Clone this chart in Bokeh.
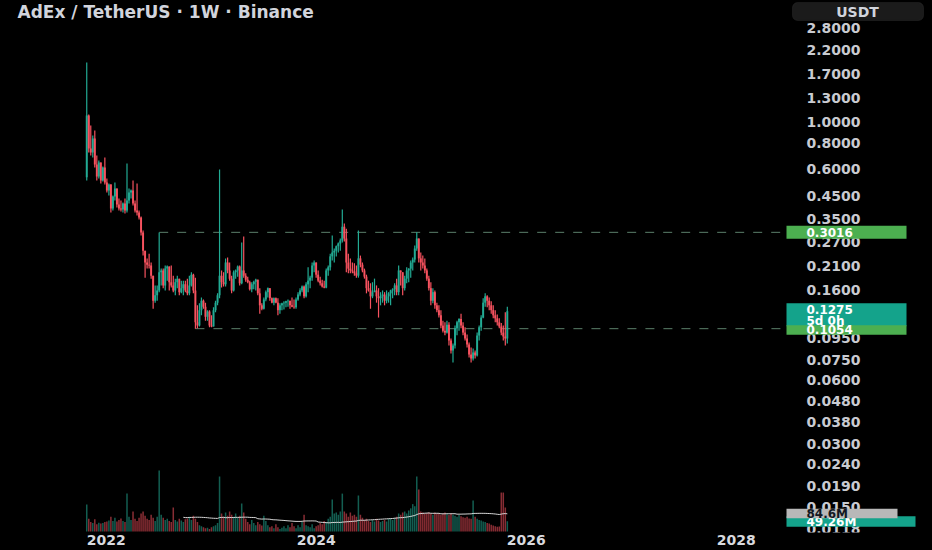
import pandas as pd
from bokeh.plotting import figure
from bokeh.models import (Range1d, FixedTicker, PrintfTickFormatter, DatetimeTickFormatter,
                          Label, BoxAnnotation, ColumnDataSource, LinearScale)
from bokeh.embed import file_html
from bokeh.resources import INLINE

# ---------------- data ----------------
title_text = "AdEx / TetherUS · 1W · Binance"
quote_currency = "USDT"
first_week = "2021-10-25"
first_open = 0.55

close = [
    1.079, 0.753, 0.721, 0.840, 0.632, 0.555, 0.646, 0.531, 0.612, 0.520,
    0.476, 0.508, 0.391, 0.446, 0.487, 0.409, 0.391, 0.387, 0.413, 0.383,
    0.427, 0.466, 0.476, 0.413, 0.383, 0.375, 0.355, 0.301, 0.247, 0.217,
    0.212, 0.210, 0.188, 0.143, 0.152, 0.160, 0.195, 0.199, 0.169, 0.203,
    0.208, 0.175, 0.169, 0.160, 0.175, 0.182, 0.157, 0.164, 0.171, 0.160,
    0.155, 0.169, 0.190, 0.160, 0.113, 0.109, 0.129, 0.143, 0.134, 0.120,
    0.127, 0.109, 0.108, 0.129, 0.140, 0.152, 0.188, 0.175, 0.171, 0.217,
    0.199, 0.182, 0.160, 0.195, 0.199, 0.208, 0.173, 0.199, 0.188, 0.180,
    0.175, 0.162, 0.171, 0.176, 0.180, 0.155, 0.136, 0.131, 0.145, 0.157,
    0.164, 0.147, 0.140, 0.147, 0.140, 0.129, 0.136, 0.139, 0.140, 0.142,
    0.143, 0.136, 0.134, 0.133, 0.145, 0.153, 0.160, 0.167, 0.150, 0.171,
    0.178, 0.184, 0.210, 0.217, 0.190, 0.178, 0.173, 0.167, 0.165, 0.199,
    0.206, 0.232, 0.242, 0.247, 0.259, 0.267, 0.276, 0.321, 0.282, 0.217,
    0.203, 0.199, 0.197, 0.193, 0.188, 0.227, 0.212, 0.199, 0.186, 0.164,
    0.160, 0.150, 0.157, 0.160, 0.150, 0.147, 0.150, 0.153, 0.143, 0.150,
    0.155, 0.160, 0.162, 0.169, 0.157, 0.199, 0.195, 0.164, 0.182, 0.199,
    0.203, 0.217, 0.224, 0.253, 0.282, 0.227, 0.217, 0.210, 0.199, 0.182,
    0.164, 0.143, 0.157, 0.136, 0.129, 0.122, 0.109, 0.103, 0.101, 0.110,
    0.0926, 0.0830, 0.0878, 0.106, 0.113, 0.117, 0.109, 0.101, 0.0947, 0.0887,
    0.0795, 0.0761, 0.0813, 0.0787, 0.0978, 0.107, 0.119, 0.140, 0.150, 0.143,
    0.136, 0.129, 0.122, 0.118, 0.113, 0.108, 0.101, 0.0968, 0.0947, 0.1275,
]

high = [
    1.924, 1.091, 0.968, 0.868, 0.916, 0.698, 0.661, 0.646, 0.619, 0.683,
    0.543, 0.514, 0.510, 0.451, 0.520, 0.487, 0.436, 0.427, 0.418, 0.436,
    0.639, 0.487, 0.481, 0.531, 0.427, 0.514, 0.383, 0.359, 0.308, 0.247,
    0.227, 0.239, 0.217, 0.188, 0.169, 0.169, 0.301, 0.203, 0.203, 0.210,
    0.210, 0.208, 0.210, 0.188, 0.182, 0.188, 0.182, 0.178, 0.178, 0.178,
    0.182, 0.188, 0.195, 0.192, 0.184, 0.136, 0.139, 0.148, 0.145, 0.140,
    0.129, 0.129, 0.122, 0.133, 0.143, 0.155, 0.599, 0.199, 0.195, 0.227,
    0.229, 0.217, 0.188, 0.199, 0.201, 0.210, 0.210, 0.270, 0.288, 0.193,
    0.186, 0.178, 0.175, 0.178, 0.182, 0.180, 0.164, 0.139, 0.148, 0.160,
    0.165, 0.164, 0.148, 0.148, 0.148, 0.147, 0.139, 0.140, 0.142, 0.143,
    0.145, 0.143, 0.148, 0.145, 0.148, 0.157, 0.164, 0.169, 0.169, 0.175,
    0.206, 0.188, 0.217, 0.222, 0.217, 0.199, 0.186, 0.180, 0.178, 0.203,
    0.210, 0.239, 0.291, 0.253, 0.261, 0.270, 0.282, 0.387, 0.332, 0.314,
    0.239, 0.227, 0.217, 0.215, 0.210, 0.308, 0.234, 0.217, 0.203, 0.190,
    0.178, 0.173, 0.175, 0.182, 0.169, 0.164, 0.157, 0.160, 0.157, 0.160,
    0.157, 0.161, 0.164, 0.173, 0.182, 0.210, 0.199, 0.195, 0.188, 0.206,
    0.204, 0.222, 0.229, 0.261, 0.3016, 0.282, 0.242, 0.234, 0.227, 0.203,
    0.188, 0.175, 0.164, 0.160, 0.140, 0.136, 0.129, 0.115, 0.113, 0.115,
    0.113, 0.0947, 0.0897, 0.109, 0.115, 0.118, 0.124, 0.113, 0.107, 0.0989,
    0.0907, 0.0858, 0.0849, 0.0830, 0.101, 0.109, 0.122, 0.147, 0.155, 0.152,
    0.148, 0.142, 0.136, 0.129, 0.123, 0.118, 0.112, 0.109, 0.126, 0.134,
]

low = [
    0.531, 0.721, 0.698, 0.683, 0.612, 0.531, 0.543, 0.514, 0.525, 0.508,
    0.466, 0.451, 0.375, 0.383, 0.427, 0.396, 0.383, 0.379, 0.375, 0.370,
    0.375, 0.413, 0.436, 0.404, 0.375, 0.362, 0.347, 0.291, 0.234, 0.184,
    0.203, 0.203, 0.182, 0.131, 0.140, 0.143, 0.157, 0.169, 0.164, 0.160,
    0.178, 0.160, 0.165, 0.157, 0.152, 0.164, 0.152, 0.155, 0.152, 0.157,
    0.152, 0.152, 0.167, 0.155, 0.1054, 0.1058, 0.108, 0.122, 0.131, 0.115,
    0.115, 0.107, 0.107, 0.108, 0.126, 0.136, 0.147, 0.165, 0.167, 0.167,
    0.193, 0.178, 0.155, 0.158, 0.182, 0.186, 0.169, 0.171, 0.184, 0.176,
    0.173, 0.160, 0.157, 0.162, 0.160, 0.152, 0.124, 0.129, 0.130, 0.142,
    0.148, 0.143, 0.139, 0.136, 0.139, 0.122, 0.124, 0.129, 0.130, 0.133,
    0.134, 0.131, 0.133, 0.131, 0.131, 0.143, 0.150, 0.157, 0.147, 0.148,
    0.157, 0.164, 0.178, 0.195, 0.184, 0.175, 0.169, 0.165, 0.164, 0.164,
    0.188, 0.199, 0.222, 0.217, 0.232, 0.242, 0.247, 0.270, 0.273, 0.195,
    0.193, 0.193, 0.193, 0.188, 0.184, 0.184, 0.206, 0.195, 0.182, 0.155,
    0.158, 0.131, 0.147, 0.157, 0.140, 0.119, 0.136, 0.140, 0.136, 0.139,
    0.140, 0.136, 0.147, 0.152, 0.152, 0.152, 0.169, 0.152, 0.160, 0.173,
    0.175, 0.184, 0.199, 0.217, 0.247, 0.217, 0.199, 0.203, 0.193, 0.178,
    0.160, 0.136, 0.139, 0.131, 0.126, 0.119, 0.106, 0.101, 0.098, 0.100,
    0.0878, 0.0804, 0.0729, 0.0849, 0.098, 0.103, 0.106, 0.098, 0.0926, 0.0858,
    0.0770, 0.0729, 0.0745, 0.0761, 0.0778, 0.0926, 0.103, 0.118, 0.134, 0.133,
    0.129, 0.124, 0.118, 0.113, 0.109, 0.106, 0.098, 0.0926, 0.0878, 0.0897,
]

# weekly volume, millions of ADX
volume_m = [
    128,
    60, 45, 40, 58, 35, 42, 38, 40, 45, 48,
    52, 70, 50, 65, 48, 55, 62, 50, 45,
    180,
    70, 55, 95, 60, 50, 65, 85, 95, 75, 60, 55, 80, 65, 50, 70,
    290,
    80, 65, 55, 60, 50, 45, 114, 55, 48, 60, 52, 45, 58,
    62, 70, 55, 75, 60, 45, 30, 25, 20, 15, 18, 12, 20, 25, 30, 40,
    261,
    85, 70, 90, 75, 95, 80, 70, 85, 65, 75,
    133,
    90, 60, 45, 35, 55, 40, 30, 45, 35, 28, 75, 50,
    30, 20, 25, 15, 35, 20, 12, 18, 25, 15, 30, 20, 40, 25, 15, 30, 20, 45, 80, 30,
    25, 20, 35, 15, 25, 30, 40, 35, 50, 45, 60, 70,
    152,
    85, 90, 80, 95,
    180,
    95, 85, 70, 90, 75, 80, 70,
    171,
    80, 65, 55, 60, 50, 45, 55, 48, 60, 52, 45, 50, 55, 48, 60, 62, 55, 65, 70, 85,
    80, 90, 95, 85,
    100, 110, 130, 120,
    261,
    200,
    95, 90, 85, 88, 92, 85, 80, 90, 85, 88, 80, 85, 90, 82, 78, 85, 80, 75, 70, 78,
    72, 68, 65, 70,
    62, 60,
    147,
    70, 60, 55, 52, 48, 45, 40, 38, 32, 28, 25, 22, 24,
    185, 185, 114, 49.26,
]
volume_ma_window = 49
volume_ma_last = 84.6
volume_last = 49.26

level_prices = [0.3016, 0.1054]
level_start_candle = [36, 54]
last_price = 0.1275
countdown = "5d 0h"

price_ticks = [2.8, 2.2, 1.7, 1.3, 1.0, 0.8, 0.6, 0.45, 0.35, 0.27, 0.21, 0.16,
               0.095, 0.075, 0.06, 0.048, 0.038, 0.03, 0.024, 0.019, 0.015, 0.0118]
year_ticks = ["2022-01-01", "2024-01-01", "2026-01-01", "2028-01-01"]

assert len(close) == len(high) == len(low) == len(volume_m) == 210

# ---------------- styling ----------------
UP = "#22ab94"
DOWN = "#f7525f"
FONT = "DejaVu Sans"
AXIS_TEXT = "#c9cbd1"

dates = pd.date_range(first_week, periods=len(close), freq="7D")
open_ = [first_open] + close[:-1]
colors = [UP if c >= o else DOWN for o, c in zip(open_, close)]
ma = pd.Series(volume_m, dtype=float).rolling(volume_ma_window).mean()

src = ColumnDataSource(dict(
    t=dates, o=open_, h=high, l=low, c=close,
    top=[max(o, c) for o, c in zip(open_, close)],
    bottom=[min(o, c) for o, c in zip(open_, close)],
    color=colors, vol=volume_m, ma=ma,
))

x_start = pd.Timestamp("2020-12-29")    # left edge of the pane
pane_right = pd.Timestamp("2028-06-24")  # where the price scale begins
x_end = pd.Timestamp("2029-11-14")      # right edge of the canvas
p = figure(width=932, height=550, x_axis_type="datetime", y_axis_type="log",
           y_axis_location="right",
           x_range=Range1d(x_start, x_end), y_range=Range1d(0.0114, 3.786),
           output_backend="svg", toolbar_location=None,
           min_border_left=0, min_border_top=0, min_border_right=0, min_border_bottom=18,
           background_fill_color="#000000", border_fill_color="#000000",
           outline_line_color=None)
p.extra_y_ranges = {"vol": Range1d(-4.75, 2522.25)}
p.extra_y_scales = {"vol": LinearScale()}
p.grid.visible = False

week_ms = 7 * 24 * 3600 * 1000
# volume
p.vbar(x="t", width=week_ms * 0.75, top="vol", bottom=0, fill_color="color",
       fill_alpha=0.55, line_color=None, y_range_name="vol", source=src)
p.line(x="t", y="ma", line_color="#d6d6d6", line_width=1, y_range_name="vol", source=src)

# levels
for lv, i0 in zip(level_prices, level_start_candle):
    p.segment(x0=[dates[i0]], y0=[lv], x1=[pane_right], y1=[lv],
              line_color="#5b7f6a", line_width=1, line_dash="9 9")

# candles
p.segment(x0="t", y0="l", x1="t", y1="h", line_color="color", line_width=1.2, source=src)
p.vbar(x="t", width=week_ms * 0.95, top="top", bottom="bottom", fill_color="color",
       line_color=None, source=src)

# axes
ya = p.yaxis[0]
ya.fixed_location = pane_right.value / 1e6
ya.ticker = FixedTicker(ticks=price_ticks)
ya.formatter = PrintfTickFormatter(format="%.4f")
ya.axis_line_color = None
ya.major_tick_line_color = None
ya.minor_tick_line_color = None
ya.major_tick_out = 0
ya.major_tick_in = 0
ya.major_label_standoff = 20
ya.major_label_text_font = FONT
ya.major_label_text_font_size = "14px"
ya.major_label_text_font_style = "bold"
ya.major_label_text_color = AXIS_TEXT

xa = p.xaxis[0]
xa.ticker = FixedTicker(ticks=[pd.Timestamp(d).value // 10**6 for d in year_ticks])
xa.formatter = DatetimeTickFormatter(years="%Y", months="%Y", days="%Y")
xa.axis_line_color = None
xa.major_tick_line_color = None
xa.minor_tick_line_color = None
xa.major_tick_out = 0
xa.major_tick_in = 0
xa.major_label_standoff = 2
xa.major_label_text_font = FONT
xa.major_label_text_font_size = "14px"
xa.major_label_text_font_style = "bold"
xa.major_label_text_color = "#d8d9de"

# ---------------- annotations ----------------
K = 10 ** (1 / 211.0)   # price factor of one screen pixel on this log scale
VPX = 4.75              # volume (M) per screen pixel


def box(top, bottom, color, left=786, right=906, rng=None, line=None, radius=0):
    kw = dict(left=left, right=right, left_units="screen", right_units="screen",
              top=top, bottom=bottom, fill_color=color, fill_alpha=1.0,
              line_color=line, border_radius=radius)
    if rng:
        kw["y_range_name"] = rng
    p.add_layout(BoxAnnotation(**kw))


def text(x, y, s, color, size="12px", align="left", rng=None, style="bold"):
    kw = dict(x=x, y=y, x_units="screen", text=s, text_color=color, text_font=FONT,
              text_font_size=size, text_font_style=style, text_align=align,
              text_baseline="middle")
    if rng:
        kw["y_range_name"] = rng
    p.add_layout(Label(**kw))


text(17, 3.357, title_text, "#d1d4dc", size="17px")
box(3.70, 3.044, "#1b1b1b", left=792, right=923, line="#3a3a3a", radius=5)
text(857, 3.357, quote_currency, "#d1d4dc", size="14px", align="center")

# price tags
box(level_prices[0] * K**6.5, level_prices[0] / K**6.5, "#4caf50")
text(806, level_prices[0], f"{level_prices[0]:.4f}", "#ffffff")
box(last_price * K**8, last_price / K**15, "#14a38b")
text(806, last_price * K**2, f"{last_price:.4f}", "#ffffff")
text(806, last_price / K**10, countdown, "#ffffff")
box(level_prices[1] * K**3.5, level_prices[1] / K**6, "#4caf50")
text(806, level_prices[1] / K**1.2, f"{level_prices[1]:.4f}", "#ffffff")

# volume tags
box(volume_last + 5 * VPX, volume_last - 5.5 * VPX, "#14a38b", right=915, rng="vol")
text(806, volume_last - 0.8 * VPX, f"{volume_last:.2f}M", "#ffffff", rng="vol")
box(volume_ma_last + 5 * VPX, volume_ma_last - 4.5 * VPX, "#b8b8b8", right=897, rng="vol")
text(806, volume_ma_last, f"{volume_ma_last:.1f}M", "#131722", rng="vol")

html = file_html(p, INLINE, title="AdEx / TetherUS")
html = html.replace("<head>", "<head><style>html,body{margin:0;padding:0;background:#000000;overflow:hidden;}</style>", 1)
open("out.html", "w").write(html)
